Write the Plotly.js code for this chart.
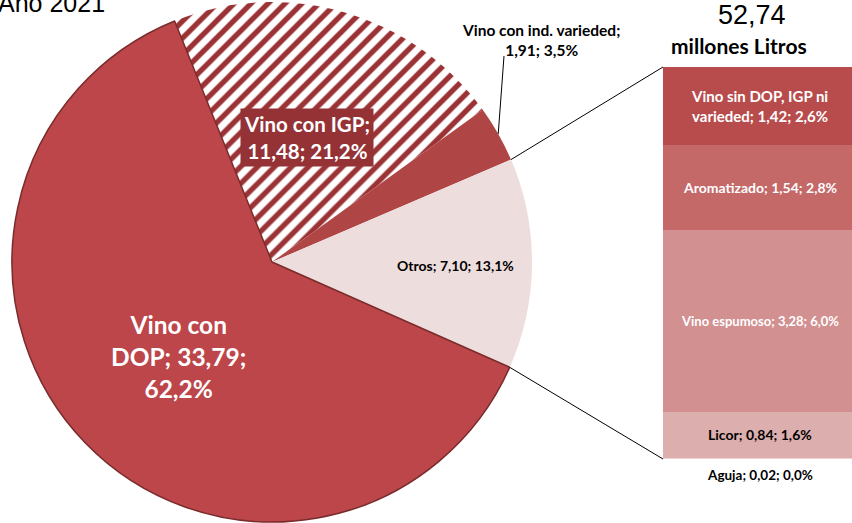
<!DOCTYPE html>
<html><head><meta charset="utf-8">
<script src="https://cdn.plot.ly/plotly-3.0.1.min.js"></script>
<style>html,body{margin:0;padding:0;background:#fff}#chart{width:852px;height:523px}</style>
</head><body><div id="chart"></div>
<script>
// ---- data ----
const pieLabels = ['Vino con IGP', 'Vino con ind. varieded', 'Otros', 'Vino con DOP'];
const pieValues = [11.48, 1.91, 7.10, 33.79];
const piePcts = [21.2, 3.5, 13.1, 62.2];
const pieColors = ['#ffffff', '#B04545', '#EDDDDD', '#BC4649'];
const barLabels = ['Aguja', 'Licor', 'Vino espumoso', 'Aromatizado', 'Vino sin DOP, IGP ni varieded'];
const barValues = [0.02, 0.84, 3.28, 1.54, 1.42];
const barPcts = [0.0, 1.6, 6.0, 2.8, 2.6];
const barColors = ['#F0D2D2', '#DDAEAE', '#D29090', '#C46868', '#B84C4C'];
const totalText = '52,74';
const unitText = 'millones Litros';
const yearText = 'Año 2021';

// ---- helpers ----
const W = 852, H = 523;
const cx = 272, cy = 262, R = 260, ROT = -22;
const pieTotal = pieValues.reduce((a, b) => a + b, 0);
const barTotal = barValues.reduce((a, b) => a + b, 0);
const num = v => v.toFixed(2).replace('.', ',');
const pc = p => p.toFixed(1).replace('.', ',') + '%';
const P = (x, y) => ({xref: 'paper', yref: 'paper', x: x / W, y: 1 - y / H});
function edgePoint(frac) {
  const a = (ROT + frac * 360) * Math.PI / 180;
  return [cx + R * Math.sin(a), cy - R * Math.cos(a)];
}
function cumFrac(i) { let s = 0; for (let k = 0; k < i; k++) s += pieValues[k]; return s / pieTotal; }

const FONT = 'Lato, "Open Sans", sans-serif';
const barTopPx = 67, barBotPx = 459, barLeftPx = 663;

// ---- traces ----
const traces = [];
traces.push({
  type: 'pie', labels: pieLabels, values: pieValues, sort: false,
  direction: 'clockwise', rotation: ROT, textinfo: 'none', hoverinfo: 'none',
  domain: {x: [(cx - R) / W, (cx + R) / W], y: [Math.max(0, 1 - (cy + R) / H), 1 - (cy - R) / H]},
  marker: {
    colors: pieColors,
    line: {color: ['rgba(0,0,0,0)', 'rgba(0,0,0,0)', 'rgba(0,0,0,0)', '#7A2B2B'], width: [0, 0, 0, 1.5]},
    pattern: {shape: ['/', '', '', ''], fgcolor: ['#9B3235', '#B04545', '#EDDDDD', '#BC4649'],
              bgcolor: ['#ffffff', '#B04545', '#EDDDDD', '#BC4649'], size: 12, solidity: 0.45, fillmode: 'replace'}
  }
});
barLabels.forEach((l, i) => {
  traces.push({type: 'bar', x: [0], y: [barValues[i]], width: [1], name: l,
    marker: {color: barColors[i], line: {width: 0}}, hoverinfo: 'none', xaxis: 'x', yaxis: 'y'});
});

// ---- annotations ----
const ann = [];
ann.push(Object.assign(P(-4, 3), {text: yearText, xanchor: 'left', yanchor: 'middle', showarrow: false,
  font: {family: '"Liberation Sans", Arial, sans-serif', size: 25, color: '#000'}}));
ann.push(Object.assign(P(752, 15), {text: totalText, xanchor: 'center', yanchor: 'middle', showarrow: false,
  font: {family: '"Liberation Sans", Arial, sans-serif', size: 27, color: '#000'}}));
ann.push(Object.assign(P(739, 45), {text: '<b>' + unitText + '</b>', xanchor: 'center', yanchor: 'middle', showarrow: false,
  font: {family: FONT, size: 21, color: '#000'}}));
// pie labels
ann.push(Object.assign(P(541, 40), {text: '<b>' + pieLabels[1] + ';<br>' + num(pieValues[1]) + '; ' + pc(piePcts[1]) + '</b>',
  xanchor: 'center', yanchor: 'middle', showarrow: false, font: {family: FONT, size: 15.5, color: '#000'}}));
ann.push(Object.assign(P(307, 137), {text: '<b>' + pieLabels[0] + ';<br>' + num(pieValues[0]) + '; ' + pc(piePcts[0]) + '</b>',
  xanchor: 'center', yanchor: 'middle', showarrow: false, bgcolor: '#943236', borderpad: 3,
  font: {family: FONT, size: 20.5, color: '#fff'}}));
ann.push(Object.assign(P(456, 265), {text: '<b>' + pieLabels[2] + '; ' + num(pieValues[2]) + '; ' + pc(piePcts[2]) + '</b>',
  xanchor: 'center', yanchor: 'middle', showarrow: false, font: {family: FONT, size: 14, color: '#000'}}));
const dopWords = pieLabels[3].split(' ');
ann.push(Object.assign(P(178, 356), {text: '<b>' + dopWords.slice(0, 2).join(' ') + '<br>' + dopWords[2] + '; ' + num(pieValues[3]) + ';<br>' + pc(piePcts[3]) + '</b>',
  xanchor: 'center', yanchor: 'middle', showarrow: false, font: {family: FONT, size: 24.5, color: '#fff'}}));
// bar labels (data coords)
const barText = [
  {c: '#000', s: 13.5, out: true},
  {c: '#000', s: 14},
  {c: '#fff', s: 13},
  {c: '#fff', s: 14},
  {c: '#fff', s: 15}
];
let cum = 0;
barLabels.forEach((l, i) => {
  const mid = cum + barValues[i] / 2; cum += barValues[i];
  let label = l + '; ' + num(barValues[i]) + '; ' + pc(barPcts[i]);
  if (i === 4) label = 'Vino sin DOP, IGP ni<br>varieded; ' + num(barValues[i]) + '; ' + pc(barPcts[i]);
  const t = barText[i];
  const a = {xref: 'x', yref: 'y', x: 0.012, y: mid, text: '<b>' + label + '</b>',
    showarrow: false, xanchor: 'center', yanchor: 'middle', font: {family: FONT, size: t.s, color: t.c}};
  if (t.out) { a.y = 0; a.yanchor = 'top'; a.yshift = -6; }
  ann.push(a);
});

// ---- shapes (connectors) ----
const pTop = edgePoint(cumFrac(2));
const pBot = edgePoint(cumFrac(3));
const pInd = edgePoint(cumFrac(1) + pieValues[1] / pieTotal / 2);
const shapes = [
  {type: 'line', xref: 'paper', yref: 'paper', x0: pTop[0] / W, y0: 1 - pTop[1] / H, x1: barLeftPx / W, y1: 1 - barTopPx / H, line: {color: '#000', width: 1}},
  {type: 'line', xref: 'paper', yref: 'paper', x0: pBot[0] / W, y0: 1 - pBot[1] / H, x1: barLeftPx / W, y1: 1 - barBotPx / H, line: {color: '#000', width: 1}},
  {type: 'line', xref: 'paper', yref: 'paper', x0: pInd[0] / W, y0: 1 - pInd[1] / H, x1: 504 / W, y1: 1 - 56 / H, line: {color: '#000', width: 1}}
];

const layout = {
  width: W, height: H, margin: {l: 0, r: 0, t: 0, b: 0}, showlegend: false,
  paper_bgcolor: '#fff', plot_bgcolor: 'rgba(0,0,0,0)',
  barmode: 'stack', bargap: 0,
  xaxis: {domain: [barLeftPx / W, 1], range: [-0.5, 0.5], visible: false, fixedrange: true},
  yaxis: {domain: [1 - barBotPx / H, 1 - barTopPx / H], range: [0, barTotal], visible: false, fixedrange: true},
  annotations: ann, shapes: shapes
};
Plotly.newPlot('chart', traces, layout, {displayModeBar: false, staticPlot: true});
</script></body></html>
